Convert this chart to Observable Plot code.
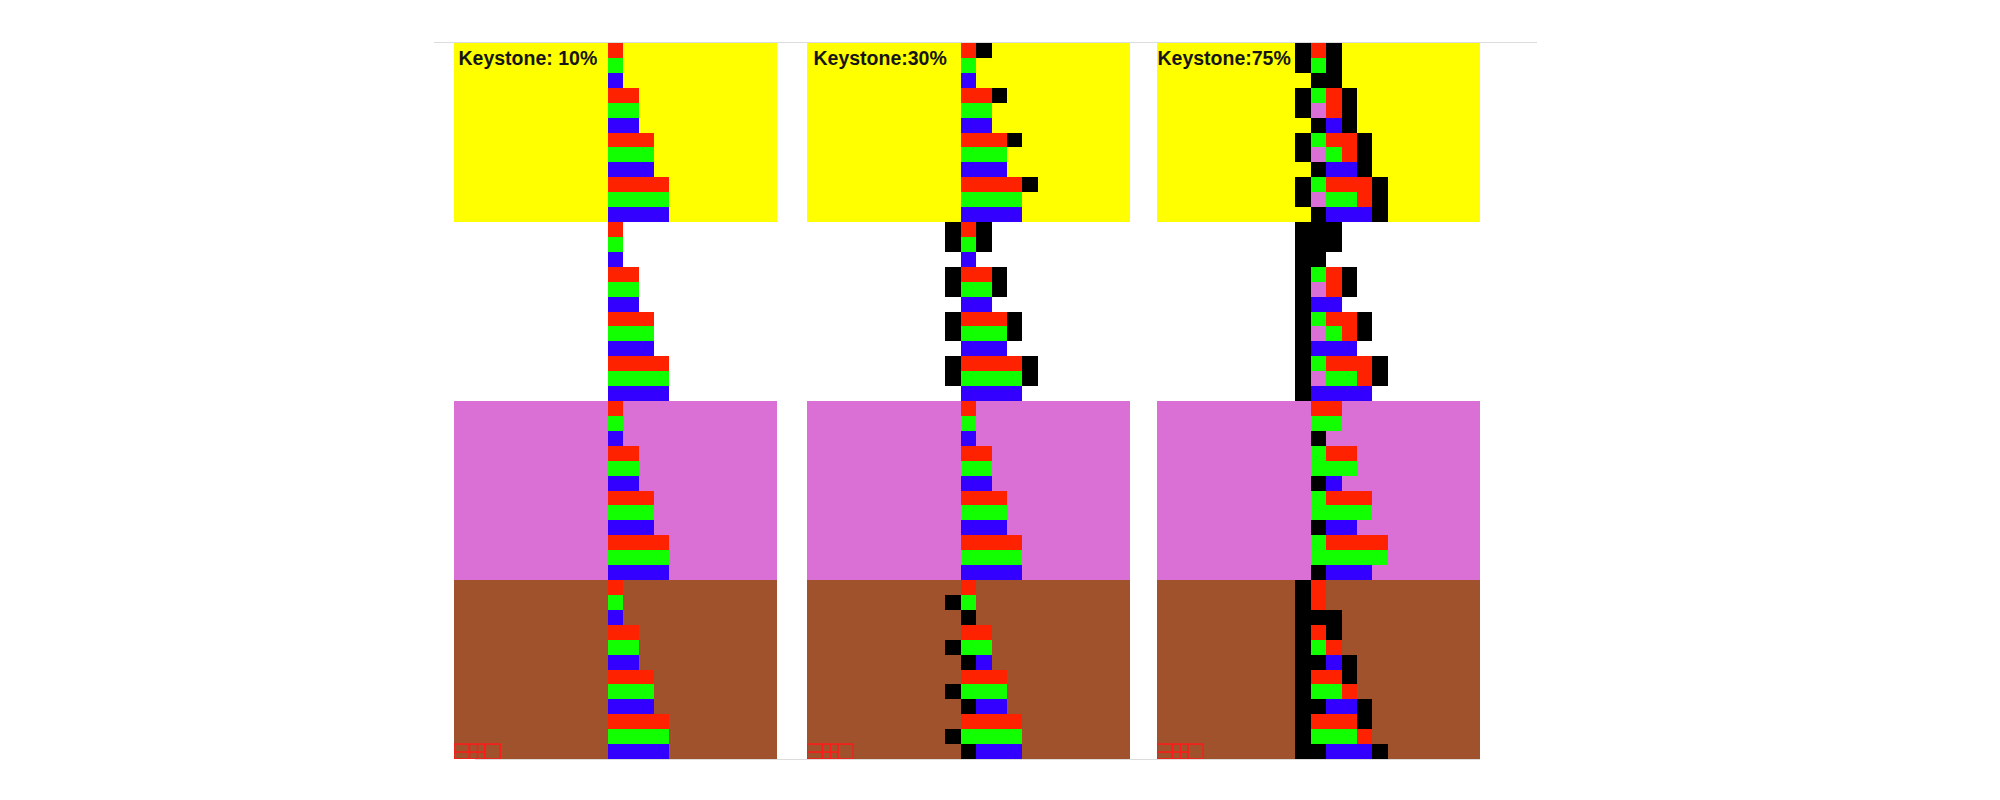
<!DOCTYPE html>
<html><head><meta charset="utf-8">
<script src="https://cdn.jsdelivr.net/npm/d3@7"></script>
<script src="https://cdn.jsdelivr.net/npm/@observablehq/plot@0.6"></script>
<style>
body{margin:0;background:#fff;width:2000px;height:800px;position:relative;overflow:hidden;font-family:"Liberation Sans",Arial,sans-serif}
.panel{position:absolute;top:43px}
.rule{position:absolute;height:1px;background:#dcdcdc}
</style></head><body>
<div class="rule" style="top:42px;left:434px;width:1103px"></div>
<div class="rule" style="top:759px;left:475px;width:1005px"></div>
<div id="p0" class="panel" style="left:454px"></div>
<div id="p1" class="panel" style="left:807px"></div>
<div id="p2" class="panel" style="left:1157px"></div>
<script>
// ---- data ----
const titles = ["Keystone: 10%", "Keystone:30%", "Keystone:75%"];
const bandNames = ["yellow", "white", "orchid", "sienna"];
const rowsPerBand = 12;
const nCols = 21;
const firstCol = 9; // each row string starts at grid column 9
// codes: R red, G green, B blue, K black, P orchid, . empty
const panel10 = [
  ".R.....", ".G.....", ".B.....", ".RR....", ".GG....", ".BB....", ".RRR...", ".GGG...", ".BBB...", ".RRRR..", ".GGGG..", ".BBBB..",
  ".R.....", ".G.....", ".B.....", ".RR....", ".GG....", ".BB....", ".RRR...", ".GGG...", ".BBB...", ".RRRR..", ".GGGG..", ".BBBB..",
  ".R.....", ".G.....", ".B.....", ".RR....", ".GG....", ".BB....", ".RRR...", ".GGG...", ".BBB...", ".RRRR..", ".GGGG..", ".BBBB..",
  ".R.....", ".G.....", ".B.....", ".RR....", ".GG....", ".BB....", ".RRR...", ".GGG...", ".BBB...", ".RRRR..", ".GGGG..", ".BBBB.."
];
const panel30 = [
  ".RK....", ".G.....", ".B.....", ".RRK...", ".GG....", ".BB....", ".RRRK..", ".GGG...", ".BBB...", ".RRRRK.", ".GGGG..", ".BBBB..",
  "KRK....", "KGK....", ".B.....", "KRRK...", "KGGK...", ".BB....", "KRRRK..", "KGGGK..", ".BBB...", "KRRRRK.", "KGGGGK.", ".BBBB..",
  ".R.....", ".G.....", ".B.....", ".RR....", ".GG....", ".BB....", ".RRR...", ".GGG...", ".BBB...", ".RRRR..", ".GGGG..", ".BBBB..",
  ".R.....", "KG.....", ".K.....", ".RR....", "KGG....", ".KB....", ".RRR...", "KGGG...", ".KBB...", ".RRRR..", "KGGGG..", ".KBBB.."
];
const panel75 = [
  "KRK....", "KGK....", ".KK....", "KGRK...", "KPRK...", ".KBK...", "KGRRK..", "KPGRK..", ".KBBK..", "KGRRRK.", "KPGGRK.", ".KBBBK.",
  "KKK....", "KKK....", "KK.....", "KGRK...", "KPRK...", "KBB....", "KGRRK..", "KPGRK..", "KBBB...", "KGRRRK.", "KPGGRK.", "KBBBB..",
  ".RR....", ".GG....", ".K.....", ".GRR...", ".GGG...", ".KB....", ".GRRR..", ".GGGG..", ".KBB...", ".GRRRR.", ".GGGGG.", ".KBBB..",
  "KR.....", "KR.....", "KKK....", "KRK....", "KGR....", "KKBK...", "KRRK...", "KGGR...", "KKBBK..", "KRRRK..", "KGGGR..", "KKBBBK."
];
const panels = [panel10, panel30, panel75];
const cellColors = {R: "#ff2200", G: "#11ff00", B: "#3300ff", K: "#000000", P: "#da70d6"};
const bandColors = {yellow: "#ffff00", white: "#ffffff", orchid: "#da70d6", sienna: "#a0522d"};
const iconGlyphs = ["bar", "cross", "box"];
const titleDx = [4, 6, 0];

// ---- drawing ----
const nRows = bandNames.length * rowsPerBand;
panels.forEach((rows, p) => {
  const cells = rows.flatMap((s, r) => [...s].map((ch, i) => ch === "." ? null : {row: r, col: firstCol + i, code: ch}).filter(Boolean));
  const bands = bandNames.map((b, i) => ({band: b, i}));
  const icons = iconGlyphs.map((g, i) => ({g, i}));
  const hLines = icons.filter(d => d.g === "bar" || d.g === "cross");
  const vLines = icons.filter(d => d.g === "cross");
  const chart = Plot.plot({
    width: 323, height: 716, margin: 0,
    x: {domain: [0, nCols], axis: null},
    y: {domain: [0, nRows], reverse: true, axis: null},
    color: {type: "identity"},
    marks: [
      Plot.rect(bands, {x1: 0, x2: nCols, y1: d => d.i * rowsPerBand, y2: d => (d.i + 1) * rowsPerBand, fill: d => bandColors[d.band], shapeRendering: "crispEdges"}),
      Plot.rect(cells, {x1: d => d.col, x2: d => d.col + 1, y1: d => d.row, y2: d => d.row + 1, fill: d => cellColors[d.code], shapeRendering: "crispEdges"}),
      Plot.rect(icons, {x1: d => d.i, x2: d => d.i + 1, y1: nRows - 1, y2: nRows, fill: "none", stroke: "#ff1a1a", strokeWidth: 1.5}),
      Plot.link(hLines, {x1: d => d.i, x2: d => d.i + 1, y1: nRows - 0.5, y2: nRows - 0.5, stroke: "#ff1a1a", strokeWidth: 1.5}),
      Plot.link(vLines, {x1: d => d.i + 0.5, x2: d => d.i + 0.5, y1: nRows - 1, y2: nRows, stroke: "#ff1a1a", strokeWidth: 1.5}),
      Plot.text([titles[p]], {x: 0, y: 0, text: d => d, textAnchor: "start", lineAnchor: "top", dx: titleDx[p], dy: 8, fontSize: 19.5, fontWeight: "bold", fill: "#151515", fontFamily: "Liberation Sans, Arial, sans-serif"})
    ]
  });
  document.getElementById("p" + p).appendChild(chart);
});
</script>
</body></html>
